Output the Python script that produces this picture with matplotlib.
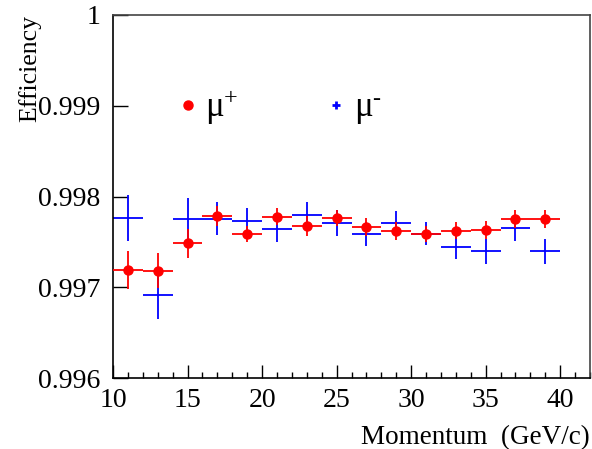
import matplotlib
matplotlib.use("Agg")
import matplotlib.pyplot as plt
from matplotlib.lines import Line2D
from matplotlib.ticker import MultipleLocator, FixedLocator

plt.rcParams['font.family'] = ['Liberation Serif', 'DejaVu Serif']
plt.rcParams['mathtext.fontset'] = 'custom'
plt.rcParams['mathtext.rm'] = 'Liberation Serif'
plt.rcParams['mathtext.it'] = 'Liberation Serif:italic'

momentum = [11, 13, 15, 17, 19, 21, 23, 25, 27, 29, 31, 33, 35, 37, 39]
bin_half_width = [1] * 15

eff_mu_plus = [0.997193, 0.997186, 0.997488, 0.997788, 0.997590, 0.997781, 0.997678,
               0.997763, 0.997664, 0.997626, 0.997587, 0.997626, 0.997634, 0.997755, 0.997755]
err_mu_plus = [0.00021, 0.00019, 0.00016, 0.00011, 0.00009, 0.00009, 0.00011,
               0.00009, 0.00010, 0.00010, 0.00009, 0.00009, 0.00010, 0.00010, 0.00010]

eff_mu_minus = [0.997766, 0.996918, 0.997759, 0.997759, 0.997737, 0.997648, 0.997799,
                0.997711, 0.997587, 0.997708, 0.997593, 0.997450, 0.997399, 0.997653, 0.997399]
err_mu_minus = [0.00025, 0.00026, 0.00023, 0.00018, 0.00014, 0.00015, 0.00014,
                0.00014, 0.00013, 0.00013, 0.00013, 0.00014, 0.00014, 0.00014, 0.00014]

ytick_vals = [0.996, 0.997, 0.998, 0.999, 1.0]
ytick_labels = ['0.996', '0.997', '0.998', '0.999', '1']
xtick_vals = [10, 15, 20, 25, 30, 35, 40]
legend_labels = ['μ$^{+}$', 'μ$^{\u2010}$']

fig = plt.figure(figsize=(5.92, 4.49), dpi=100)
ax = fig.add_axes([113/592, 1 - 378.3/449, (590-113)/592, (378.3-15)/449])

ax.errorbar(momentum, eff_mu_minus, xerr=bin_half_width, yerr=err_mu_minus,
            fmt='none', ecolor='#0000ff', elinewidth=1.3, capsize=0, zorder=2)
ax.errorbar(momentum, eff_mu_plus, xerr=bin_half_width, yerr=err_mu_plus,
            fmt='o', color='#ff0000', ecolor='#ff0000', markersize=6.5,
            elinewidth=1.3, capsize=0, zorder=3)

ax.set_xlim(10, 42)
ax.set_ylim(0.996, 1.0)
ax.yaxis.set_major_locator(FixedLocator(ytick_vals))
ax.set_yticklabels(ytick_labels)
ax.xaxis.set_major_locator(FixedLocator(xtick_vals))
ax.xaxis.set_minor_locator(MultipleLocator(1))

ax.tick_params(axis='both', which='major', direction='in', labelsize=20, width=1.0)
ax.tick_params(axis='y', which='major', length=11, pad=9)
ax.tick_params(axis='x', which='major', length=9.5, pad=7)
ax.tick_params(axis='x', which='minor', direction='in', length=4.5, width=1.0)
ax.tick_params(top=False, right=False, which='both')

for side in ['left', 'bottom']:
    ax.spines[side].set_color('black')
    ax.spines[side].set_linewidth(1.2)
for side in ['top', 'right']:
    ax.spines[side].set_color('#444444')
    ax.spines[side].set_linewidth(1.2)

ax.set_xlabel('Momentum  (GeV/c)', fontsize=19.5, ha='right')
ax.xaxis.set_label_coords(1.0, -0.13)
ax.set_ylabel('Efficiency', fontsize=18.5)
ax.yaxis.set_label_coords(-0.15, 1.0)
ax.yaxis.label.set_ha('right')

handles = [Line2D([], [], marker='o', color='#ff0000', linestyle='none', markersize=6.5),
           Line2D([], [], marker='+', color='#0000ff', linestyle='none', markersize=6,
                  markeredgewidth=2)]
ax.legend(handles, legend_labels, ncol=2, frameon=False, fontsize=25,
          loc='center left', bbox_to_anchor=(0.073, 0.746), handlelength=0.5,
          handletextpad=0.25, columnspacing=2.57)

fig.savefig('out.png', dpi=100)
